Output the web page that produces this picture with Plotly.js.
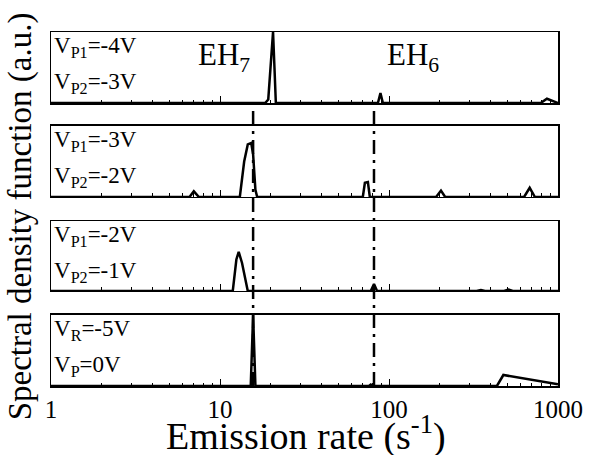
<!DOCTYPE html>
<html>
<head>
<meta charset="utf-8">
<script src="https://cdn.plot.ly/plotly-3.0.1.min.js"></script>
<style>html,body{margin:0;padding:0;background:#fff;}#chart{width:589px;height:455px;}</style>
</head>
<body>
<div id="chart"></div>
<script>
// Panel 1: VP1=-4V, VP2=-3V
const p1X = [1, 18.5, 19.3, 20.0, 20.6, 21.0, 21.4, 86, 89, 92, 790, 860, 950, 1000];
const p1Y = [0, 0, 0.05, 0.6, 1.0, 0.5, 0, 0, 0.14, 0, 0, 0.06, 0.02, 0];
// Panel 2: VP1=-3V, VP2=-2V
const p2X = [1, 6.6, 7.0, 7.5, 13.1, 13.9, 14.6, 15.3, 15.7, 16.2, 16.6, 70, 72, 75, 77, 190, 203, 215, 630, 680, 730, 1000];
const p2Y = [0, 0, 0.08, 0, 0, 0.5, 0.74, 0.76, 0.6, 0.1, 0, 0, 0.2, 0.21, 0, 0, 0.09, 0, 0, 0.13, 0, 0];
// Panel 3: VP1=-2V, VP2=-1V
const p3X = [1, 11.9, 12.5, 12.9, 13.5, 14.6, 78, 81.5, 85, 330, 350, 370, 480, 510, 540, 1000];
const p3Y = [0, 0, 0.45, 0.56, 0.4, 0, 0, 0.1, 0, 0, 0.015, 0, 0, 0.02, 0, 0];
// Panel 4: VR=-5V, VP=0V
const p4X = [1, 15.2, 15.7, 16.2, 76, 78, 80, 435, 475, 1000];
const p4Y = [0, 0, 1.0, 0, 0, 0.02, 0, 0, 0.155, 0.024];

const panelLabels = [
  ["V<sub>P1</sub>=-4V", "V<sub>P2</sub>=-3V"],
  ["V<sub>P1</sub>=-3V", "V<sub>P2</sub>=-2V"],
  ["V<sub>P1</sub>=-2V", "V<sub>P2</sub>=-1V"],
  ["V<sub>R</sub>=-5V", "V<sub>P</sub>=0V"]
];
const levelNames = ["EH<sub>7</sub>", "EH<sub>6</sub>"];
const levelRates = [15.7, 81.5];
const levelLabelX = [7.2, 94.7];
const majorTicks = [1, 10, 100, 1000];
const tickText = ["1", "10", "100", "1000"];
const minorTicks = [2,3,4,5,6,7,8,9,20,30,40,50,60,70,80,90,200,300,400,500,600,700,800,900];
const xTitle = "Emission rate (s<sup>-1</sup>)";
const yTitle = "Spectral density function (a.u.)";

const FONT = "Liberation Serif";
const seriesX = [p1X, p2X, p3X, p4X];
const seriesY = [p1Y, p2Y, p3Y, p4Y];
// plot area: top 32, bottom 386 (height 354)
const domains = [[0.7994, 1.0], [0.5339, 0.7345], [0.2684, 0.4661], [0, 0.2006]];

const traces = seriesX.map((xs, i) => ({
  x: xs, y: seriesY[i], type: 'scatter', mode: 'lines',
  line: {color: '#000', width: 2.5},
  xaxis: i === 0 ? 'x' : 'x' + (i + 1),
  yaxis: i === 0 ? 'y' : 'y' + (i + 1),
  showlegend: false, hoverinfo: 'skip'
}));

const layout = {
  width: 589, height: 455,
  margin: {l: 51, r: 31, t: 32, b: 69},
  paper_bgcolor: '#fff', plot_bgcolor: '#fff',
  font: {family: FONT, color: '#000'},
  showlegend: false,
  annotations: [],
  shapes: []
};

for (let i = 0; i < 4; i++) {
  const xk = i === 0 ? 'xaxis' : 'xaxis' + (i + 1);
  const yk = i === 0 ? 'yaxis' : 'yaxis' + (i + 1);
  layout[xk] = {
    type: 'log', range: [0, 3],
    anchor: i === 0 ? 'y' : 'y' + (i + 1),
    matches: i === 0 ? undefined : 'x',
    showline: true, mirror: true, linecolor: '#000', linewidth: 1.5,
    showgrid: false, zeroline: false,
    ticks: 'inside', ticklen: 7, tickwidth: 1, tickcolor: '#000',
    tickmode: 'array', tickvals: majorTicks, ticktext: tickText,
    showticklabels: i === 3,
    tickfont: {family: FONT, size: 25, color: '#000'},
    minor: {tickmode: 'array', tickvals: minorTicks, ticks: 'inside', ticklen: 3.5, tickwidth: 1, tickcolor: '#000', showgrid: false}
  };
  layout[yk] = {
    domain: domains[i], range: [0, 1], fixedrange: true,
    anchor: i === 0 ? 'x' : 'x' + (i + 1),
    showline: true, mirror: true, linecolor: '#000', linewidth: 1.5,
    showgrid: false, zeroline: false, ticks: '', showticklabels: false
  };
  // panel labels
  const topPx = 386 - domains[i][1] * 354;
  const lineOffsets = [15, 51];
  for (let j = 0; j < 2; j++) {
    layout.annotations.push({
      xref: 'paper', yref: 'paper', x: 0.002, xanchor: 'left',
      y: (386 - (topPx + lineOffsets[j])) / 354, yanchor: 'middle',
      text: panelLabels[i][j], showarrow: false,
      font: {family: FONT, size: 23, color: '#000'}
    });
  }
}

// level labels EH7, EH6
for (let k = 0; k < 2; k++) {
  layout.annotations.push({
    xref: 'x', yref: 'paper', x: Math.log10(levelLabelX[k]), xanchor: 'left',
    y: 0.93, yanchor: 'middle', text: levelNames[k], showarrow: false,
    font: {family: FONT, size: 31, color: '#000'}
  });
  layout.shapes.push({
    type: 'line', xref: 'x', yref: 'paper', x0: levelRates[k], x1: levelRates[k],
    y0: 0, y1: 0.795, line: {color: '#000', width: 2.5, dash: '14px,6px,3px,6px'}
  });
}

// axis titles
layout.annotations.push({
  xref: 'paper', yref: 'paper', x: 0.503, xanchor: 'center', y: -0.133, yanchor: 'middle',
  text: xTitle, showarrow: false, font: {family: FONT, size: 38, color: '#000'}
});
layout.annotations.push({
  xref: 'paper', yref: 'paper', x: -0.06, xanchor: 'center', y: 0.478, yanchor: 'middle',
  text: yTitle, textangle: -90, showarrow: false, font: {family: FONT, size: 33, color: '#000'}
});

Plotly.newPlot('chart', traces, layout, {staticPlot: true, displayModeBar: false});
</script>
</body>
</html>
